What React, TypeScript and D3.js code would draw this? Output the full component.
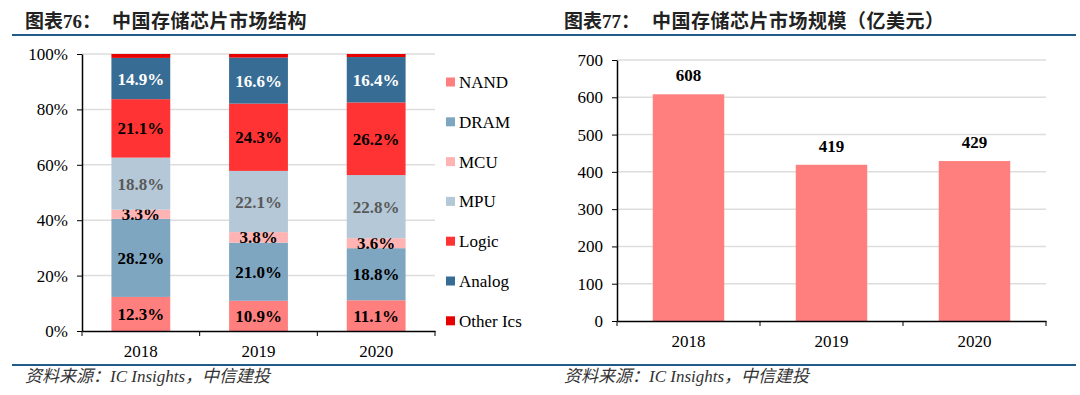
import React, { useEffect, useRef } from 'react';
import * as d3 from 'd3';

const years = ['2018', '2019', '2020'];
const segments = ['NAND', 'DRAM', 'MCU', 'MPU', 'Logic', 'Analog', 'Other Ics'];
const nand = [12.3, 10.9, 11.1];
const dram = [28.2, 21.0, 18.8];
const mcu = [3.3, 3.8, 3.6];
const mpu = [18.8, 22.1, 22.8];
const logic = [21.1, 24.3, 26.2];
const analog = [14.9, 16.6, 16.4];
const otherIcs = [1.4, 1.3, 1.1];
const marketSize = [608, 419, 429];
const pctTicks = [0, 20, 40, 60, 80, 100];
const sizeTicks = [0, 100, 200, 300, 400, 500, 600, 700];

const segColors = ['#FF7F7F', '#7FA6C1', '#FFB3B3', '#B4C8D8', '#FF3333', '#376D94', '#E60000'];
const labelColors = ['#000', '#000', '#000', '#595959', '#000', '#fff', null];

const serif = '"Liberation Serif", "Times New Roman", "Noto Sans CJK SC", serif';
const titleFont = '"Liberation Serif", "Noto Sans CJK SC", sans-serif';
const blue = '#1F5C8B';

export default function App() {
  const svgRef = useRef<SVGSVGElement | null>(null);

  useEffect(() => {
    if (!svgRef.current) return;
    const svg = d3.select(svgRef.current);
    svg.selectAll('*').remove();

    // titles, sources and rules
    const titles = [
      { x: 25, x2: 112, a: '图表76：', b: '中国存储芯片市场结构' },
      { x: 564, x2: 652, a: '图表77：', b: '中国存储芯片市场规模（亿美元）' },
    ];
    titles.forEach((t) => {
      svg.append('text').attr('x', t.x).attr('y', 28).attr('font-family', titleFont)
        .attr('font-size', 19).attr('font-weight', 'bold').attr('fill', '#222').text(t.a);
      svg.append('text').attr('x', t.x2).attr('y', 28).attr('font-family', titleFont)
        .attr('font-size', 19).attr('font-weight', 'bold').attr('letter-spacing', 0.5)
        .attr('fill', '#222').text(t.b);
      svg.append('text').attr('x', t.x).attr('y', 382).attr('font-family', serif)
        .attr('font-size', 17).attr('font-style', 'italic').attr('fill', '#333')
        .text('资料来源：IC Insights，中信建投');
    });
    svg.append('line').attr('x1', 12).attr('x2', 1076).attr('y1', 35).attr('y2', 35)
      .attr('stroke', blue).attr('stroke-width', 2);
    svg.append('line').attr('x1', 12).attr('x2', 1076).attr('y1', 365).attr('y2', 365)
      .attr('stroke', blue).attr('stroke-width', 2);

    // ---------- left: stacked percent bars ----------
    const series = [nand, dram, mcu, mpu, logic, analog, otherIcs];
    const rows = years.map((y, i) => {
      const r: any = { year: y };
      segments.forEach((s, k) => (r[s] = series[k][i]));
      return r;
    });
    const stack = d3.stack<any>().keys(segments)(rows);

    const x1 = d3.scaleBand().domain(years).range([82, 435]).paddingInner(0.5).paddingOuter(0.25);
    const y1 = d3.scaleLinear().domain([0, 100]).range([331, 54]);

    const g1 = svg.append('g');
    g1.selectAll('line.grid').data(pctTicks.slice(1)).enter().append('line')
      .attr('x1', 82).attr('x2', 435).attr('y1', (d) => y1(d)).attr('y2', (d) => y1(d))
      .attr('stroke', '#DDDDDD').attr('stroke-width', 1.5);

    stack.forEach((layer, k) => {
      g1.selectAll(`rect.s${k}`).data(layer).enter().append('rect')
        .attr('x', (d: any) => x1(d.data.year)!)
        .attr('width', x1.bandwidth())
        .attr('y', (d) => y1(d[1]))
        .attr('height', (d) => y1(d[0]) - y1(d[1]))
        .attr('fill', segColors[k]);
      if (labelColors[k]) {
        g1.selectAll(`text.s${k}`).data(layer).enter().append('text')
          .attr('x', (d: any) => x1(d.data.year)! + x1.bandwidth() / 2)
          .attr('y', (d) => (y1(d[0]) + y1(d[1])) / 2 + 6)
          .attr('text-anchor', 'middle').attr('font-family', serif).attr('font-size', 17)
          .attr('font-weight', 'bold').attr('fill', labelColors[k]!)
          .text((d: any) => `${d.data[segments[k]].toFixed(1)}%`);
      }
    });

    const yAxis1 = g1.append('g').attr('transform', 'translate(82,0)')
      .call(d3.axisLeft(y1).tickValues(pctTicks).tickSize(5).tickSizeOuter(0).tickFormat((d) => `${d}%`));
    const xAxis1 = g1.append('g').attr('transform', 'translate(0,331)')
      .call(d3.axisBottom(x1).tickSize(0).tickSizeOuter(0));
    // category separator ticks
    g1.selectAll('line.sep').data(d3.range(years.length + 1)).enter().append('line')
      .attr('x1', (i) => 82 + i * x1.step()).attr('x2', (i) => 82 + i * x1.step())
      .attr('y1', 331).attr('y2', 336).attr('stroke', '#000');

    // legend
    const lg = g1.append('g');
    segments.forEach((s, k) => {
      const ly = 82 + k * 39.8;
      lg.append('rect').attr('x', 446).attr('y', ly - 4.5).attr('width', 9).attr('height', 9)
        .attr('fill', segColors[k]);
      lg.append('text').attr('x', 459).attr('y', ly + 6).attr('font-family', serif)
        .attr('font-size', 17).attr('fill', '#000').text(s);
    });

    // ---------- right: market size ----------
    const x2 = d3.scaleBand().domain(years).range([617, 1046]).paddingInner(0.5).paddingOuter(0.25);
    const y2 = d3.scaleLinear().domain([0, 700]).range([321, 60]);
    const g2 = svg.append('g');
    g2.selectAll('line.grid').data(sizeTicks.slice(1)).enter().append('line')
      .attr('x1', 617).attr('x2', 1046).attr('y1', (d) => y2(d)).attr('y2', (d) => y2(d))
      .attr('stroke', '#DDDDDD').attr('stroke-width', 1.5);
    g2.selectAll('rect.bar').data(marketSize).enter().append('rect')
      .attr('x', (_, i) => x2(years[i])!).attr('width', x2.bandwidth())
      .attr('y', (d) => y2(d)).attr('height', (d) => y2(0) - y2(d)).attr('fill', '#FF7F7F');
    g2.selectAll('text.val').data(marketSize).enter().append('text')
      .attr('x', (_, i) => x2(years[i])! + x2.bandwidth() / 2).attr('y', (d) => y2(d) - 13)
      .attr('text-anchor', 'middle').attr('font-family', serif).attr('font-size', 17)
      .attr('font-weight', 'bold').attr('fill', '#000').text((d) => d);

    const yAxis2 = g2.append('g').attr('transform', 'translate(617,0)')
      .call(d3.axisLeft(y2).tickValues(sizeTicks).tickSize(5).tickSizeOuter(0));
    const xAxis2 = g2.append('g').attr('transform', 'translate(0,321)')
      .call(d3.axisBottom(x2).tickSize(0).tickSizeOuter(0));
    g2.selectAll('line.sep').data(d3.range(years.length + 1)).enter().append('line')
      .attr('x1', (i) => 617 + i * x2.step()).attr('x2', (i) => 617 + i * x2.step())
      .attr('y1', 321).attr('y2', 326).attr('stroke', '#000');

    [yAxis1, yAxis2].forEach((a) => {
      a.selectAll('text').attr('font-family', serif).attr('font-size', 17).attr('fill', '#000')
        .attr('x', -14);
      a.select('.domain').attr('stroke', '#000').attr('stroke-width', 1.5);
      a.selectAll('line').attr('stroke', '#000');
    });
    [xAxis1, xAxis2].forEach((a) => {
      a.selectAll('text').attr('font-family', serif).attr('font-size', 17).attr('fill', '#000')
        .attr('y', 14);
      a.select('.domain').attr('stroke', '#000').attr('stroke-width', 1.5);
    });
  }, []);

  return (
    <svg ref={svgRef} width={1080} height={395}
      style={{ position: 'absolute', left: 0, top: 0, background: '#fff' }} />
  );
}
